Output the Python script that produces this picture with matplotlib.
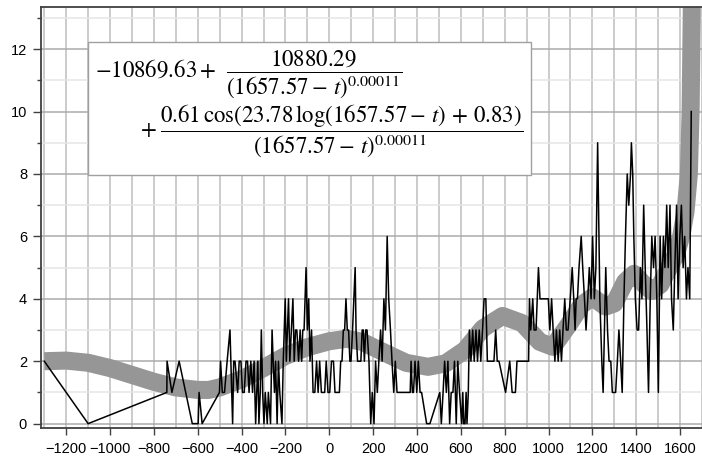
import matplotlib.pyplot as plt
from matplotlib.patches import Rectangle

plt.rcParams['mathtext.fontset'] = 'stix'

# Fitted log-periodic curve (thick gray band)
fit_years = [-1300, -1200, -1100, -1000, -900, -800, -700, -600, -550, -500,
             -400, -300, -200, -100, 0, 80, 150, 250, 350, 450, 530, 620,
             700, 790, 880, 960, 1020, 1090, 1150, 1200, 1260, 1300, 1350,
             1390, 1430, 1470, 1510, 1550, 1580, 1605, 1625, 1640, 1648, 1653, 1656]
fit_values = [2.00, 2.02, 1.95, 1.78, 1.56, 1.34, 1.16, 1.08, 1.08, 1.16,
              1.42, 1.78, 2.17, 2.45, 2.64, 2.72, 2.62, 2.28, 1.95, 1.82, 1.93, 2.36,
              3.05, 3.45, 3.22, 2.62, 2.46, 3.15, 3.80, 4.05, 3.75, 3.85, 4.55,
              4.80, 4.50, 4.25, 4.45, 5.00, 5.40, 6.00, 6.80, 8.00, 10.0, 13.0, 16.0]

# Observed yearly counts (thin black line), by period
early_years = [-1300, -1100, -741, -740, -718, -685, -625, -598, -594, -580, -501]
early_counts = [2, 0, 1, 2, 1, 2, 0, 0, 1, 0, 1]

bc_years = [-496, -488, -478, -466, -453, -441, -436, -430, -418, -411, -403,
            -396, -388, -380, -373, -366, -358, -350, -343, -336, -331, -326,
            -321, -315, -310, -304, -298, -292, -283, -278, -268, -261, -256,
            -250, -245, -238, -232, -226, -216, -210, -201, -196, -186, -180,
            -173, -166, -160, -154, -148, -140, -133, -126, -121, -115, -106,
            -100, -94, -88, -81, -74, -66, -58, -51, -44, -36, -28, -21, -14, -6]
bc_counts = [2, 1, 1, 2, 3, 0, 2, 2, 1, 2, 2,
             1, 1, 2, 2, 1, 2, 1, 2, 0, 1, 2,
             0, 1, 3, 1, 0, 1, 0, 1, 0, 3, 2,
             1, 2, 0, 2, 1, 0, 2, 4, 2, 4, 2,
             3, 4, 2, 3, 3, 2, 3, 2, 3, 3, 5,
             3, 4, 2, 3, 1, 1, 2, 1, 2, 1, 1, 1, 2, 1]

ad1_years = [2, 10, 19, 26, 32, 40, 46, 52, 58, 64, 70, 76, 82, 88, 94, 99,
             106, 112, 118, 122, 129, 136, 144, 150, 155, 160, 166, 172, 181,
             189, 196, 204, 211, 219, 226, 234, 241, 249, 256, 264, 271, 279,
             286, 294, 301, 309, 320, 332, 345, 358, 369, 373, 379, 384, 391,
             399, 406, 414, 421, 444, 459, 504, 511, 519, 526, 534, 541, 549,
             556, 564, 571, 579, 586, 594, 604, 609, 613, 619, 624, 628, 634]
ad1_counts = [1, 2, 2, 1, 1, 1, 1, 2, 2, 3, 3, 4, 3, 3, 2, 2,
              3, 4, 5, 3, 2, 2, 2, 3, 3, 2, 3, 3, 2,
              0, 1, 0, 2, 1, 2, 3, 2, 4, 3, 6, 4, 3,
              2, 1, 2, 1, 1, 1, 1, 1, 1, 2, 1, 1, 2,
              1, 2, 1, 1, 0, 0, 1, 0, 1, 2, 1, 2, 0,
              1, 1, 2, 0, 2, 1, 0, 1, 0, 0, 1, 0, 1]

ad2_years = [639, 646, 654, 661, 669, 676, 684, 691, 699, 706, 714, 721, 736,
             751, 759, 766, 774, 804, 823, 834, 849, 856, 880, 909, 913, 919,
             928, 934, 943, 954, 961, 975, 990, 999, 1006, 1014, 1021, 1029,
             1036, 1044, 1051, 1059, 1066, 1074, 1081, 1089, 1099, 1108, 1115,
             1121, 1126, 1132, 1139, 1149, 1156, 1164, 1171, 1179, 1186, 1194,
             1201, 1209, 1216]
ad2_counts = [3, 2, 3, 2, 3, 2, 3, 2, 3, 4, 4, 2, 2,
              2, 3, 2, 2, 1, 2, 1, 1, 2, 2, 2, 4, 3,
              4, 3, 3, 5, 4, 4, 4, 4, 3, 4, 3, 2,
              3, 2, 3, 2, 3, 4, 3, 3, 4, 5, 4,
              3, 4, 4, 5, 6, 5, 4, 3, 4, 5, 4,
              6, 4, 5]

late_years = [1224, 1228, 1234, 1243, 1249, 1255, 1261, 1269, 1276, 1284, 1291,
              1299, 1306, 1314, 1321, 1329, 1336, 1344, 1351, 1359, 1366, 1374,
              1378, 1384, 1389, 1396, 1404, 1411, 1419, 1426, 1434, 1441, 1449,
              1456, 1464, 1471, 1479, 1486, 1494, 1501, 1509, 1516, 1524, 1531,
              1539, 1546, 1554, 1561, 1569, 1576, 1584, 1591, 1599, 1606, 1614,
              1621, 1629, 1636, 1644, 1651]
late_counts = [9, 7, 4, 2, 1, 3, 5, 3, 2, 2, 1,
               1, 1, 2, 3, 2, 1, 4, 6, 8, 7, 8,
               9, 8, 6, 4, 3, 3, 5, 4, 7, 5, 3,
               1, 4, 6, 5, 6, 4, 1, 6, 4, 6, 5,
               7, 5, 7, 4, 3, 5, 7, 4, 6, 7, 5,
               6, 4, 5, 4, 10]

years = early_years + bc_years + ad1_years + ad2_years + late_years
counts = early_counts + bc_counts + ad1_counts + ad2_counts + late_counts

x_ticks = list(range(-1200, 1601, 200))
y_ticks = list(range(0, 13, 2))

fig = plt.figure(figsize=(7.02, 4.59), dpi=100)
ax = fig.add_axes([41 / 702, 31 / 459, 661 / 702, 421 / 459])

ax.plot(fit_years, fit_values, color='#969696', linewidth=13,
        solid_capstyle='butt', zorder=2)
ax.plot(years, counts, color='black', linewidth=1.1, zorder=3)

ax.set_xlim(-1315, 1654)
ax.set_ylim(-0.14, 13.35)

ax.set_xticks(x_ticks)
ax.set_xticks(list(range(-1300, 1701, 100)), minor=True)
ax.set_yticks(y_ticks)
ax.set_yticks(list(range(1, 14, 2)), minor=True)
ax.set_xticklabels([str(v).replace('-', '\u2212') for v in x_ticks])

ax.grid(True, which='major', axis='y', color='#ababab', linewidth=1.1, zorder=0)
ax.grid(True, which='minor', axis='y', color='#e6e6e6', linewidth=1.1, zorder=0)
ax.grid(True, which='both', axis='x', color='#bdbdbd', linewidth=1.1, zorder=0)
ax.set_axisbelow(True)

tick_family = ['Liberation Sans Narrow', 'Liberation Sans']
for lab in ax.get_xticklabels() + ax.get_yticklabels():
    lab.set_fontfamily(tick_family)
    lab.set_fontsize(10.5)
ax.tick_params(axis='x', which='major', length=5, width=1, color='#404040', pad=5)
ax.tick_params(axis='x', which='minor', length=0)
ax.tick_params(axis='y', which='major', length=6, width=1, color='#404040', pad=4)
ax.tick_params(axis='y', which='minor', length=3, width=1, color='#404040')

for side in ('left', 'bottom', 'top'):
    ax.spines[side].set_color('#404040')
    ax.spines[side].set_linewidth(1.3)
ax.spines['right'].set_visible(False)

# Formula box
fig.patches.append(Rectangle((88 / 702, 1 - 175 / 459), 443 / 702, 133 / 459,
                             transform=fig.transFigure, facecolor='white',
                             edgecolor='#a0a0a0', linewidth=1, zorder=5))
fig.text(95 / 702, 1 - 74 / 459,
         r'$-10869.63+\;\,\dfrac{10880.29}{(1657.57-\,t)^{0.00011}}$',
         ha='left', va='center', fontsize=16.5, zorder=6)
fig.text(140 / 702, 1 - 131 / 459,
         r'$+\;\dfrac{0.61\,\cos(23.78\,\log(1657.57-\,t)\,+\,0.83)}{(1657.57-\,t)^{0.00011}}$',
         ha='left', va='center', fontsize=16.5, zorder=6)

fig.savefig('out.png', dpi=100)
